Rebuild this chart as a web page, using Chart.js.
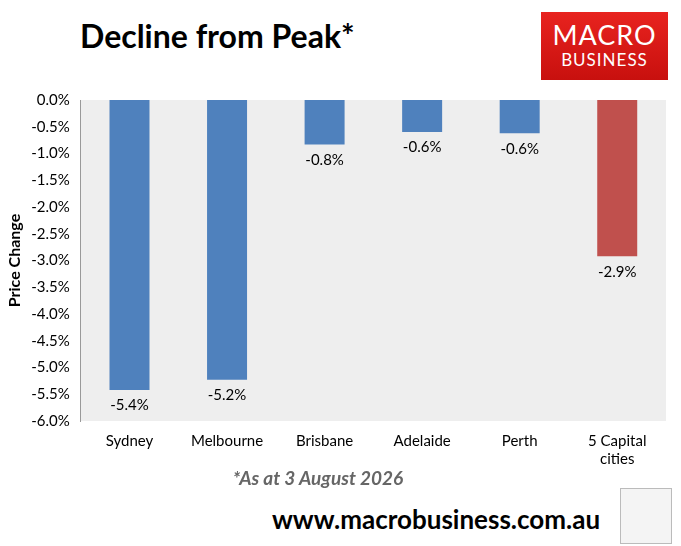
<!DOCTYPE html>
<html>
<head>
<meta charset="utf-8">
<script src="https://cdn.jsdelivr.net/npm/chart.js@4"></script>
<style>
  body { margin: 0; width: 681px; height: 546px; background: #fff; position: relative; overflow: hidden; font-family: Lato, "Liberation Sans", sans-serif; }
  #title { position: absolute; left: 80px; top: 16px; font-size: 32px; font-weight: bold; color: #000; }
  #logo { position: absolute; left: 541px; top: 12px; width: 127px; height: 68px; background: linear-gradient(#e8231f, #c8100e); color: #fff; text-align: center; }
  #logo .a { font-size: 27px; margin-top: 8px; letter-spacing: 1px; line-height: 30px; }
  #logo .b { font-size: 17px; letter-spacing: 1px; line-height: 20px; }
  #wrap { position: absolute; left: 0; top: 88px; width: 681px; height: 383px; }
  #note { position: absolute; left: 0; width: 636px; top: 466px; text-align: center; font-style: italic; font-weight: bold; font-size: 19px; color: #666; }
  #url { position: absolute; left: 272px; top: 503px; font-weight: bold; font-size: 26px; color: #000; }
  #fox { position: absolute; left: 620px; top: 488px; width: 50px; height: 54px; border: 1px solid #bbb; background: #f4f4f4; }
</style>
</head>
<body>
<div id="title">Decline from Peak*</div>
<div id="logo"><div class="a">MACRO</div><div class="b">BUSINESS</div></div>
<div id="wrap"><canvas id="c"></canvas></div>
<div id="note">*As at 3 August 2026</div>
<div id="url">www.macrobusiness.com.au</div>
<div id="fox"></div>
<script>
// data
const cities = ["Sydney", "Melbourne", "Brisbane", "Adelaide", "Perth", ["5 Capital", "cities"]];
const declines = [-5.42, -5.23, -0.83, -0.60, -0.62, -2.92];
const barColors = ["#4f81bd", "#4f81bd", "#4f81bd", "#4f81bd", "#4f81bd", "#c0504d"];

// grey plot background + labels under each bar
const plotBits = {
  id: "plotBits",
  beforeDraw(chart) {
    const a = chart.chartArea, ctx = chart.ctx;
    ctx.save();
    ctx.fillStyle = "#eeeeee";
    ctx.fillRect(a.left, a.top, a.right - a.left, a.bottom - a.top);
    ctx.restore();
  },
  afterDatasetsDraw(chart) {
    const ctx = chart.ctx;
    ctx.save();
    ctx.font = "15px Lato, 'Liberation Sans', sans-serif";
    ctx.fillStyle = "#000";
    ctx.textAlign = "center";
    ctx.textBaseline = "top";
    chart.getDatasetMeta(0).data.forEach((bar, i) => {
      ctx.fillText(declines[i].toFixed(1) + "%", bar.x, bar.y + 8);
    });
    ctx.restore();
  }
};

new Chart(document.getElementById("c"), {
  type: "bar",
  data: {
    labels: cities,
    datasets: [{ data: declines, backgroundColor: barColors, categoryPercentage: 0.41, barPercentage: 1 }]
  },
  options: {
    responsive: true,
    maintainAspectRatio: false,
    animation: false,
    layout: { padding: { left: 1, right: 15, top: 6, bottom: 0 } },
    plugins: { legend: { display: false }, tooltip: { enabled: false } },
    scales: {
      x: {
        grid: { display: false },
        border: { display: false },
        ticks: { color: "#000", font: { size: 15, family: "Lato, 'Liberation Sans', sans-serif" }, maxRotation: 0 }
      },
      y: {
        min: -6, max: 0,
        ticks: { stepSize: 0.5, color: "#000", padding: 3, font: { size: 15, family: "Lato, 'Liberation Sans', sans-serif" },
          callback: v => v.toFixed(1) + "%" },
        grid: { display: false },
        border: { color: "#999" },
        title: { display: true, text: "Price Change", color: "#000", font: { size: 16, weight: "bold", family: "Lato, 'Liberation Sans', sans-serif" } }
      }
    }
  },
  plugins: [plotBits]
});
</script>
</body>
</html>
